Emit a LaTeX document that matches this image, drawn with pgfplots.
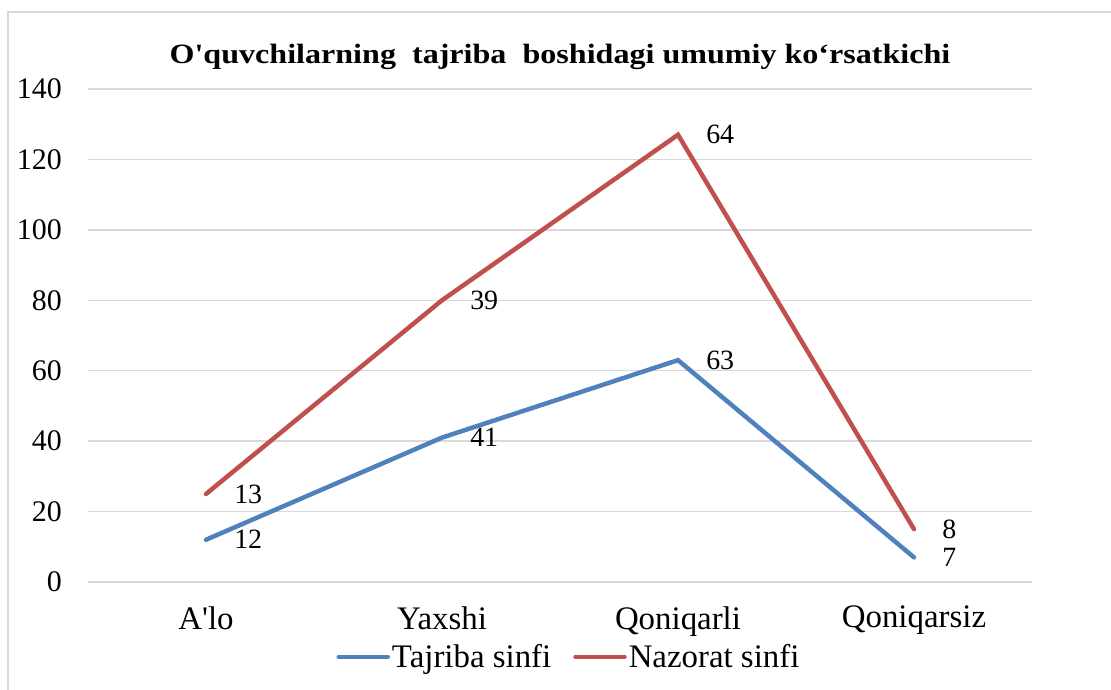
\documentclass[border=0pt]{standalone}
\usepackage{pgfplots}
\usepackage{pgfplotstable}
\pgfplotsset{compat=1.18}
\usepackage{fontspec}
\setmainfont{Liberation Serif}
\definecolor{tblue}{HTML}{4F81BD}
\definecolor{tred}{HTML}{C0504D}
\definecolor{gridgray}{HTML}{D9D9D9}

\pgfplotstableread{
x y
0 12
1 41
2 63
3 7
}\tajriba
\pgfplotstableread{
x y
0 13
1 39
2 64
3 8
}\nazorat

\begin{document}
\begin{tikzpicture}
\useasboundingbox (-88bp,-108bp) rectangle (1023bp,582bp);
\draw[gridgray, line width=2bp] (-80bp,-108bp) -- (-80bp,570bp) -- (1023bp,570bp);
\begin{axis}[
  scale only axis,
  width=944bp, height=493bp,
  xmin=-0.5, xmax=3.5,
  ymin=0, ymax=140,
  xtick={0,1,2,3},
  xticklabels={A\textquotesingle lo,Yaxshi,Qoniqarli,Qoniqarsiz},
  ytick={0,20,...,140},
  ymajorgrids,
  grid style={gridgray, line width=1.5bp},
  axis line style={draw=none},
  tick style={draw=none},
  /pgf/number format/assume math mode=true,
  ticklabel style={inner sep=0pt},
  yticklabel style={anchor=east, xshift=-26bp, font=\fontsize{30}{36}\selectfont},
  xticklabel style={anchor=north, yshift=-24bp, font=\fontsize{33}{38}\selectfont},
  stack plots=y,
  title={\scalebox{1.15}[1]{O\textquotesingle quvchilarning\ \ tajriba\ \ boshidagi umumiy ko‘rsatkichi}},
  title style={at={(0.5,1)}, anchor=center, yshift=26bp, font=\bfseries\fontsize{28}{32}\selectfont},
  legend columns=2,
  legend style={at={(0.5095,-0.152)}, anchor=center, draw=none, fill=none,
    font=\fontsize{33}{38}\selectfont, inner sep=0pt,
    /tikz/every even column/.append style={column sep=20bp}},
  legend image code/.code={\draw[#1] (0bp,0bp) -- (49bp,0bp);},
  nodes near coords,
  point meta=explicit,
  every node near coord/.append style={anchor=west, inner sep=0pt, xshift=26bp, font=\fontsize{28}{34}\selectfont, text=black},
]
\addplot[tblue, line width=4.5bp, line cap=round, no markers] table[x=x, y=y, meta=y] {\tajriba};
\addlegendentry{Tajriba sinfi}
\addplot[tred, line width=4.5bp, line cap=round, no markers] table[x=x, y=y, meta=y] {\nazorat};
\addlegendentry{Nazorat sinfi}
\end{axis}
\end{tikzpicture}
\end{document}
